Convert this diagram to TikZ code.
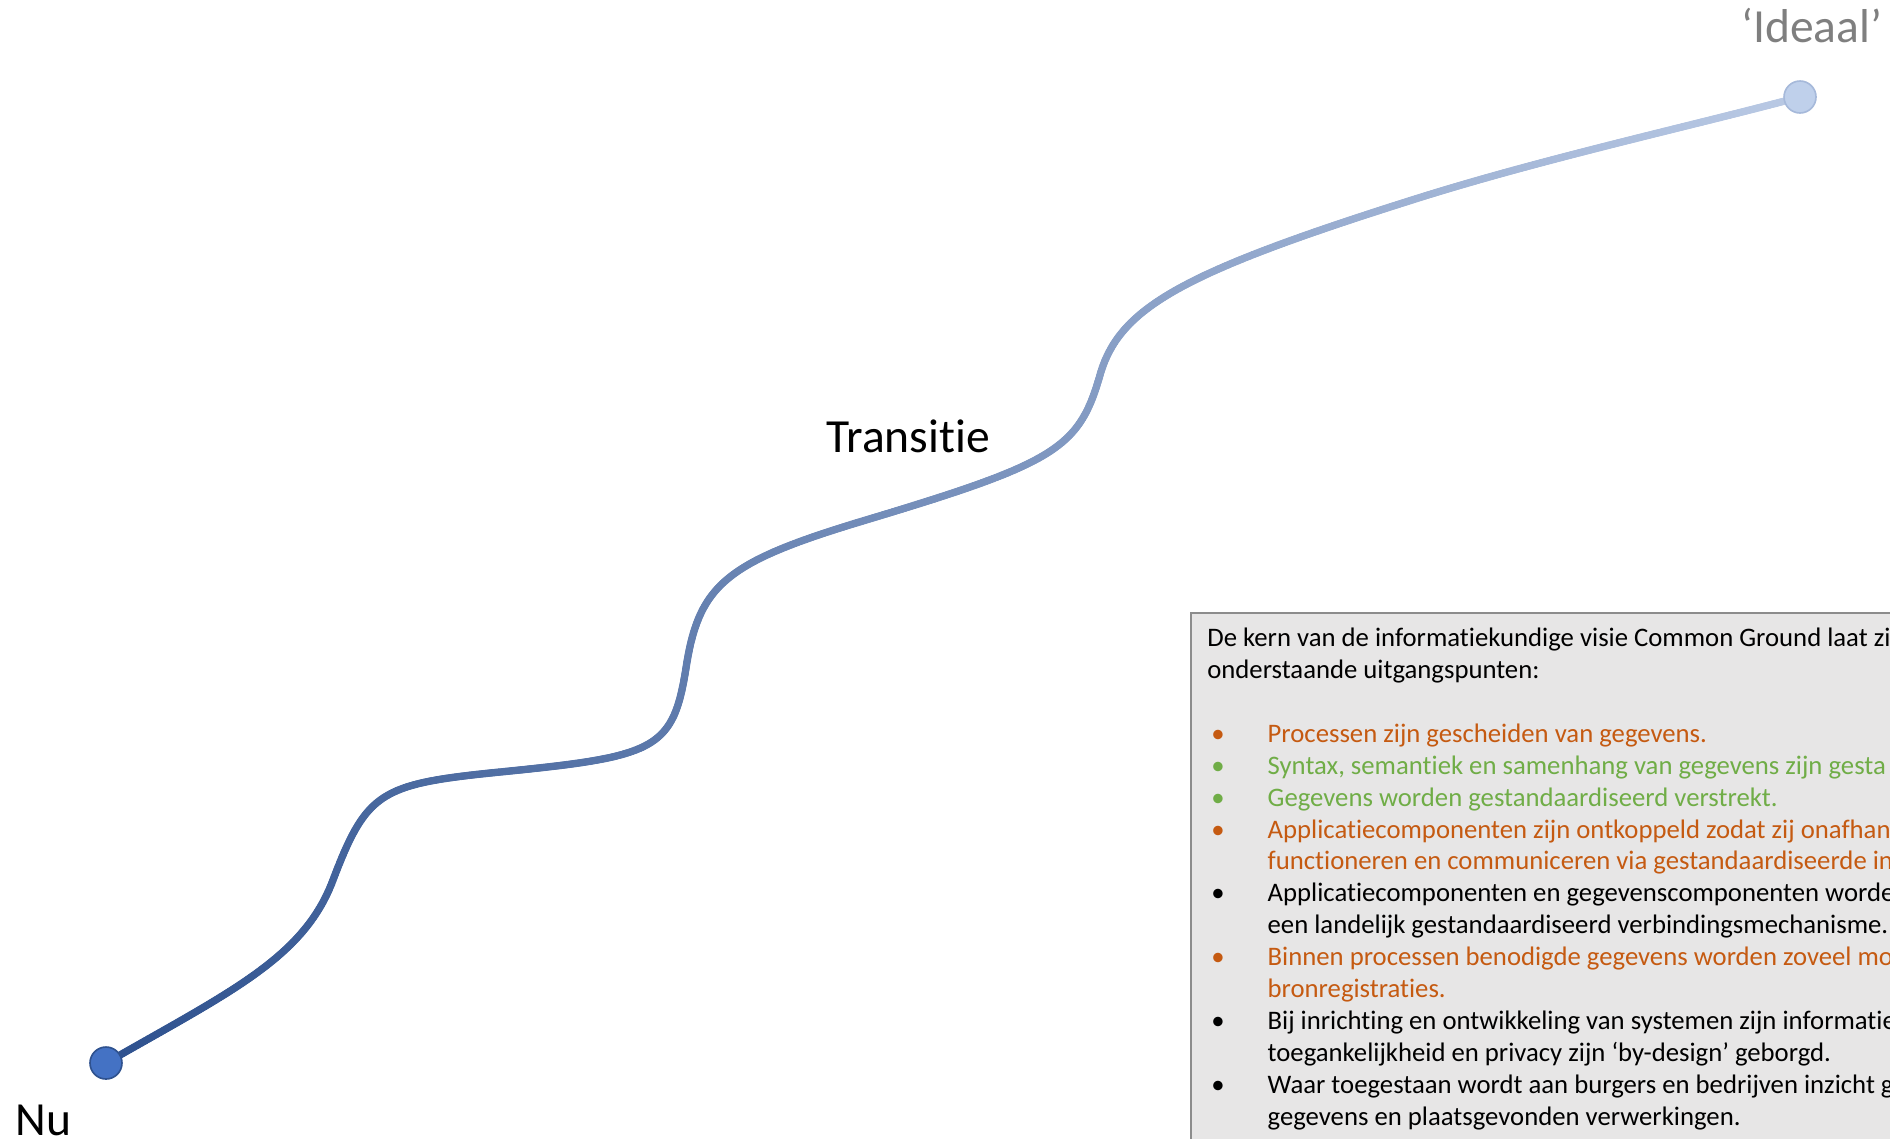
\documentclass[tikz,border=0pt]{standalone}
\usepackage{fontspec}
\setmainfont{Carlito}[Ligatures=NoCommon]
\usetikzlibrary{positioning,decorations.markings,backgrounds}

\definecolor{nuline}{HTML}{2F528F}
\definecolor{idealline}{HTML}{B9C9E4}
\definecolor{nufill}{HTML}{4472C4}
\definecolor{idealfill}{HTML}{BFD0EB}
\definecolor{idealrim}{HTML}{A6B9DA}
\definecolor{boxgray}{HTML}{E7E6E6}
\definecolor{rimgray}{HTML}{8C8C8C}
\definecolor{idealgray}{HTML}{7F7F7F}
\definecolor{kernorange}{HTML}{C55A11}
\definecolor{kerngreen}{HTML}{70AD47}

% bullet line and continuation line of the box
\newcommand\punt[2]{\textcolor{#1}{\makebox[36.8pt][l]{\hspace{2.5pt}\textbullet}#2}}
\newcommand\verder[2]{\textcolor{#1}{\hspace*{36.8pt}#2}}

\tikzset{
  padstroke/.style={decorate, decoration={markings,
      mark=between positions 0 and 1 step 0.7pt with {
        \pgfmathsetmacro\mixpct{(\pgfkeysvalueof{/pgf/decoration/mark info/distance from start}/\pgfdecoratedpathlength)*100}
        \fill[idealline!\mixpct!nuline] (0,0) circle (2.3pt);}}},
  stip/.style={circle, inner sep=0pt, minimum size=19.5pt, line width=1pt},
  groot/.style={inner sep=0pt, font=\fontsize{29}{35}\selectfont, anchor=base west},
  kernbox/.style={draw=rimgray, line width=1pt, fill=boxgray, anchor=north west,
      minimum width=900pt, minimum height=600pt, inner sep=0pt},
  kerntext/.style={inner sep=0pt, align=left, anchor=north west,
      font=\fontsize{16.3}{19.5}\selectfont}
}

\begin{document}
\begin{tikzpicture}[x=0.61pt, y=-0.61pt]
\clip[use as bounding box] (0,0) rectangle (1890,1138);
        \node[stip, fill=nufill, draw=nuline] (nu) at (106,1063) {};
        \node[stip, fill=idealfill, draw=idealrim] (ideaal) at (1800,97) {};
        \node[groot] (nulabel) at (15,1135) {Nu};
        \node[groot, text=idealgray] (ideaallabel) at (1741,42) {‘Ideaal’};
        \node[groot] (transitie) at (826,452) {Transitie};
        \begin{scope}[on background layer]
        \path[padstroke] (nu) .. controls (236,989) and (305,955) .. (333,880)
                .. controls (366.8,791.3) and (380.6,784) .. (500,772)
                .. controls (655,756.5) and (673,750.6) .. (686,668)
                .. controls (699,584) and (726,562) .. (866,520)
                .. controls (1055.5,463) and (1079,448.6) .. (1100,375)
                .. controls (1119.2,307.8) and (1181.6,272.8) .. (1412,200)
                .. controls (1536,160.7) and (1676,129.5) .. (ideaal);
        \end{scope}
        \node[kernbox] (kern) at (1190,612) {};
        \node[kerntext] (punten) at (1207,623.5) {\strut De kern van de informatiekundige visie Common Ground laat zi\\
                onderstaande uitgangspunten:\\[19.5pt]
                \punt{kernorange}{Processen zijn gescheiden van gegevens.}\\
                \punt{kerngreen}{Syntax, semantiek en samenhang van gegevens zijn gesta}\\
                \punt{kerngreen}{Gegevens worden gestandaardiseerd verstrekt.}\\
                \punt{kernorange}{Applicatiecomponenten zijn ontkoppeld zodat zij onafhan}\\
                \verder{kernorange}{functioneren en communiceren via gestandaardiseerde in}\\
                \punt{black}{Applicatiecomponenten en gegevenscomponenten worde}\\
                \verder{black}{een landelijk gestandaardiseerd verbindingsmechanisme.}\\
                \punt{kernorange}{Binnen processen benodigde gegevens worden zoveel mo}\\
                \verder{kernorange}{bronregistraties.}\\
                \punt{black}{Bij inrichting en ontwikkeling van systemen zijn informatie}\\
                \verder{black}{toegankelijkheid en privacy zijn ‘by-design’ geborgd.}\\
                \punt{black}{Waar toegestaan wordt aan burgers en bedrijven inzicht g}\\
                \verder{black}{gegevens en plaatsgevonden verwerkingen.}};
\end{tikzpicture}
\end{document}
